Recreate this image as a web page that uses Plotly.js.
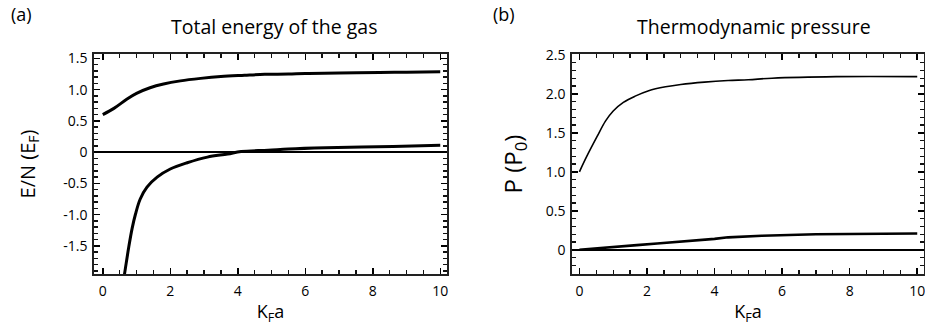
<!DOCTYPE html>
<html>
<head>
<meta charset="utf-8">
<script src="https://cdn.plot.ly/plotly-3.0.1.min.js"></script>
<style>html,body{margin:0;padding:0;background:#fff;}#chart{width:925px;height:328px;}</style>
</head>
<body>
<div id="chart"></div>
<script>
// Panel (a): total energy of the gas
const energyUpperX = [0, 0.33, 0.72, 1.0, 1.4, 1.8, 2.3, 2.9, 3.5, 4.2, 4.8, 5.5, 6.0, 7.0, 8.2, 9.0, 10];
const energyUpperY = [0.60, 0.70, 0.85, 0.94, 1.03, 1.09, 1.14, 1.18, 1.21, 1.23, 1.245, 1.25, 1.26, 1.265, 1.275, 1.28, 1.285];
const energyLowerX = [0.63, 0.67, 0.77, 0.87, 0.97, 1.11, 1.31, 1.61, 2.0, 2.5, 3.1, 3.7, 4.1, 4.9, 5.5, 6.6, 8.6, 10];
const energyLowerY = [-2.0, -1.86, -1.52, -1.22, -0.99, -0.75, -0.56, -0.40, -0.27, -0.17, -0.08, -0.03, 0.01, 0.03, 0.05, 0.07, 0.09, 0.11];
// Panel (b): thermodynamic pressure
const pressureUpperX = [0, 0.22, 0.52, 0.77, 1.0, 1.3, 1.65, 2.05, 2.55, 3.0, 3.7, 4.4, 5.0, 5.7, 7.6, 10];
const pressureUpperY = [1.0, 1.2, 1.45, 1.65, 1.78, 1.89, 1.97, 2.04, 2.09, 2.12, 2.15, 2.17, 2.18, 2.20, 2.22, 2.22];
const pressureLowerX = [0, 0.5, 1.1, 1.7, 2.3, 2.9, 3.5, 4.0, 4.4, 5.4, 7.0, 10];
const pressureLowerY = [0, 0.02, 0.04, 0.06, 0.08, 0.10, 0.12, 0.14, 0.16, 0.18, 0.20, 0.21];

const xTickVals = [0, 2, 4, 6, 8, 10];
const xTickText = ["0", "2", "4", "6", "8", "10"];
const energyTickVals = [-1.5, -1.0, -0.5, 0, 0.5, 1.0, 1.5];
const energyTickText = ["-1.5", "-1.0", "-0.5", "0", "0.5", "1.0", "1.5"];
const pressureTickVals = [0, 0.5, 1.0, 1.5, 2.0, 2.5];
const pressureTickText = ["0", "0.5", "1.0", "1.5", "2.0", "2.5"];

const titleA = "Total energy of the gas";
const titleB = "Thermodynamic pressure";
const xTitle = "K<sub>F</sub>a";
const yTitleA = "E/N (E<sub>F</sub>)";
const yTitleB = "P (P<sub>0</sub>)";

const FONT = "'Open Sans', sans-serif";
const W = 925, H = 328;

const traces = [
  {x: energyUpperX, y: energyUpperY, xaxis: 'x', yaxis: 'y', mode: 'lines', line: {color: '#000', width: 3, shape: 'spline'}},
  {x: energyLowerX, y: energyLowerY, xaxis: 'x', yaxis: 'y', mode: 'lines', line: {color: '#000', width: 3, shape: 'spline'}},
  {x: pressureUpperX, y: pressureUpperY, xaxis: 'x2', yaxis: 'y2', mode: 'lines', line: {color: '#000', width: 1.6, shape: 'spline'}},
  {x: pressureLowerX, y: pressureLowerY, xaxis: 'x2', yaxis: 'y2', mode: 'lines', line: {color: '#000', width: 2.6}}
];

function xAxis(domain, range, anchor) {
  return {
    domain: domain, range: range, anchor: anchor,
    tickmode: 'array', tickvals: xTickVals, ticktext: xTickText,
    ticks: 'inside', ticklen: 6, tickwidth: 1.5, tickcolor: '#000',
    minor: {tickmode: 'linear', tick0: 0, dtick: 0.5, ticks: 'inside', ticklen: 4, tickwidth: 1.3, tickcolor: '#111', showgrid: false},
    showline: true, linecolor: '#222', linewidth: 1.8, mirror: 'ticks',
    showgrid: false, zeroline: false,
    tickfont: {family: FONT, size: 14, color: '#000'},
    ticklabelstandoff: 3,
    ticklabeloverflow: 'allow',
    title: {text: xTitle, font: {family: FONT, size: 18, color: '#000'}, standoff: 7}
  };
}
function yAxis(domain, range, anchor, vals, text, title, tsize, standoff, minorDt) {
  return {
    domain: domain, range: range, anchor: anchor,
    tickmode: 'array', tickvals: vals, ticktext: text,
    ticks: 'inside', ticklen: 6, tickwidth: 1.5, tickcolor: '#000',
    minor: {tickmode: 'linear', tick0: 0, dtick: minorDt, ticks: 'inside', ticklen: 4, tickwidth: 1.3, tickcolor: '#111', showgrid: false},
    showline: true, linecolor: '#222', linewidth: 1.8, mirror: 'ticks',
    showgrid: false,
    zeroline: true, zerolinecolor: '#000', zerolinewidth: 1.6,
    tickfont: {family: FONT, size: 14, color: '#000'},
    ticklabelstandoff: 2,
    ticklabeloverflow: 'allow',
    title: {text: title, font: {family: FONT, size: tsize, color: '#000'}, standoff: standoff}
  };
}

const yDom = [1 - 274 / H, 1 - 54 / H];
const layout = {
  width: W, height: H,
  margin: {l: 0, r: 0, t: 0, b: 0},
  paper_bgcolor: '#fff', plot_bgcolor: '#fff',
  showlegend: false,
  xaxis: xAxis([94 / W, 447 / W], [-0.26, 10.2], 'y'),
  yaxis: yAxis(yDom, [-1.95, 1.57], 'x', energyTickVals, energyTickText, yTitleA, 20, 22, 0.1),
  xaxis2: xAxis([572 / W, 924 / W], [-0.22, 10.2], 'y2'),
  yaxis2: yAxis(yDom, [-0.31, 2.51], 'x2', pressureTickVals, pressureTickText, yTitleB, 24, 16, 0.1),
  annotations: [
    {text: titleA, xref: 'paper', yref: 'paper', x: 274 / W, y: 1 - 27 / H, xanchor: 'center', yanchor: 'middle', showarrow: false, font: {family: FONT, size: 19.5, color: '#000'}},
    {text: titleB, xref: 'paper', yref: 'paper', x: 754 / W, y: 1 - 27 / H, xanchor: 'center', yanchor: 'middle', showarrow: false, font: {family: FONT, size: 19.5, color: '#000'}},
    {text: "(a)", xref: 'paper', yref: 'paper', x: 21 / W, y: 1 - 14 / H, xanchor: 'center', yanchor: 'middle', showarrow: false, font: {family: FONT, size: 18, color: '#000'}},
    {text: "(b)", xref: 'paper', yref: 'paper', x: 504 / W, y: 1 - 14 / H, xanchor: 'center', yanchor: 'middle', showarrow: false, font: {family: FONT, size: 18, color: '#000'}}
  ]
};

Plotly.newPlot('chart', traces, layout, {staticPlot: true, displayModeBar: false});
</script>
</body>
</html>
